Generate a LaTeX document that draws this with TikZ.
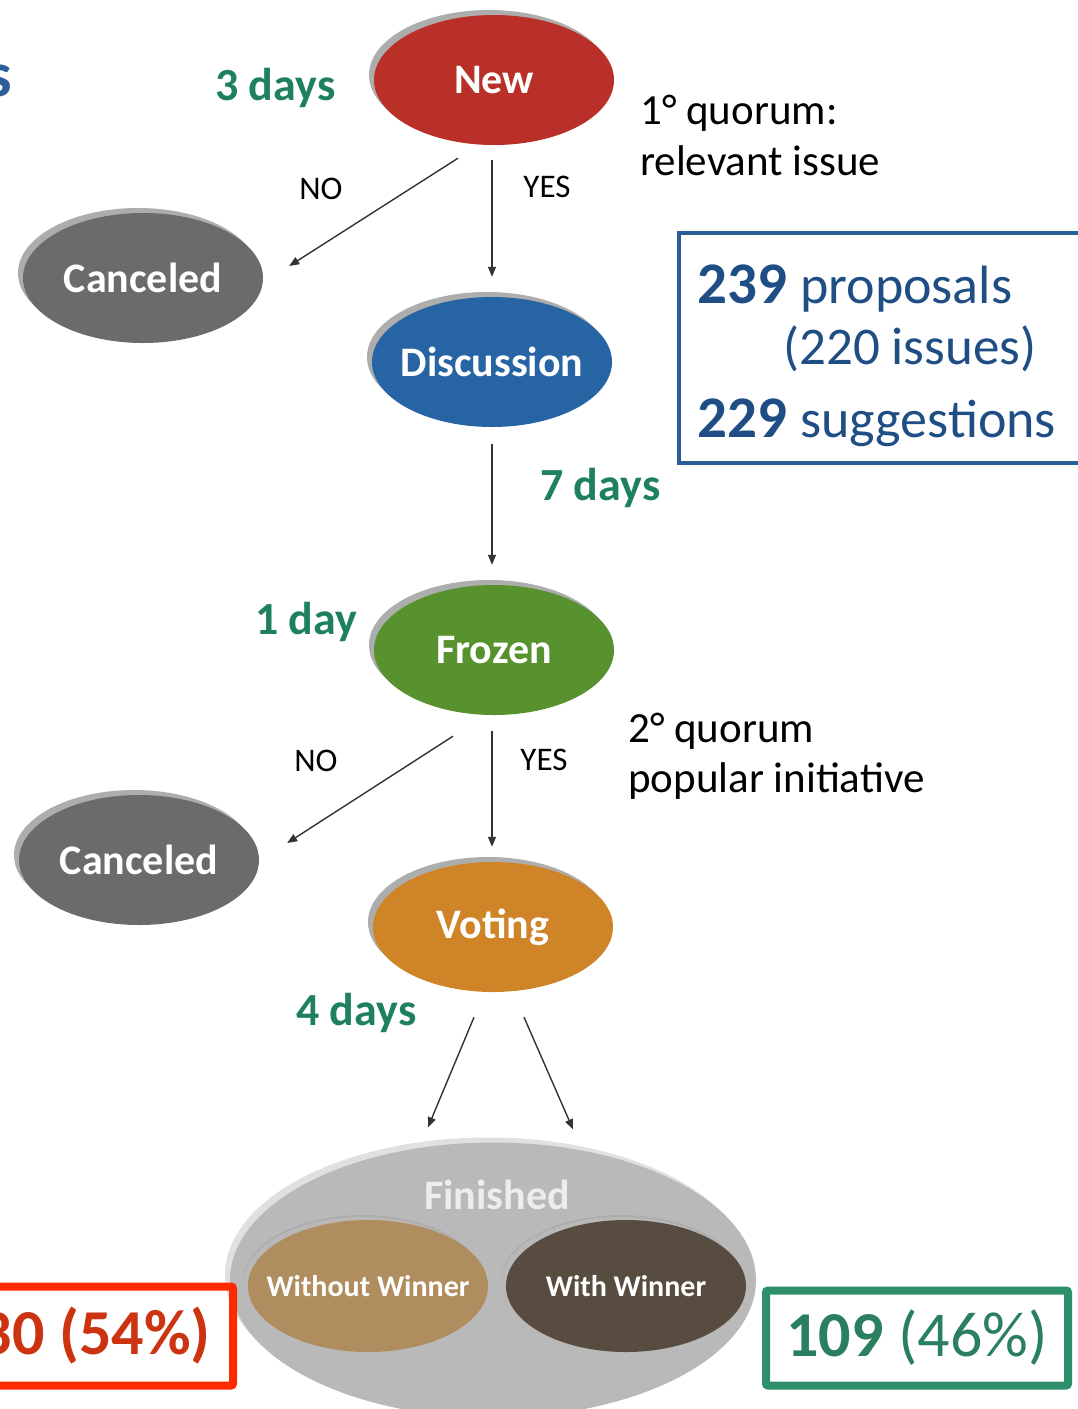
\documentclass[tikz,border=0pt]{standalone}
\usepackage{fontspec}
\setmainfont{Carlito}
\usetikzlibrary{arrows.meta,shapes.geometric,shadows}
\definecolor{newred}{HTML}{B83027}
\definecolor{cangray}{HTML}{6B6B6B}
\definecolor{discblue}{HTML}{2664A3}
\definecolor{frozgreen}{HTML}{57922E}
\definecolor{voteorange}{HTML}{CF8428}
\definecolor{fingray}{HTML}{B9B9B9}
\definecolor{nowintan}{HTML}{B08D5E}
\definecolor{winbrown}{HTML}{584C40}
\definecolor{daygreen}{HTML}{1F8060}
\definecolor{statblue}{HTML}{2B5E95}
\definecolor{stattext}{HTML}{1F4E85}
\definecolor{lostred}{HTML}{FF2A00}
\definecolor{losttext}{HTML}{CC3311}
\definecolor{wongreen}{HTML}{2E8F6B}
\definecolor{wontext}{HTML}{2A7F5F}
\newcommand{\fsz}[1]{\fontsize{#1}{#1}\selectfont}
\newcommand{\inell}[1]{\makebox[0pt]{#1}}

\begin{document}
\begin{tikzpicture}[x=1pt,y=-1pt,
  state/.style={ellipse,minimum width=240pt,minimum height=130pt,inner sep=0pt,
    text=white,font=\fsz{42}\bfseries,
    drop shadow={shadow xshift=-5pt,shadow yshift=5pt,fill=black!32,opacity=1}},
  outcome/.style={state,minimum height=132pt,font=\fsz{30}\bfseries,
    drop shadow={shadow xshift=-5pt,shadow yshift=3pt,fill=black!28,opacity=1}},
  flow/.style={draw=black!80,line width=1.4pt,-{Triangle[length=10pt,width=8pt]}},
  days/.style={text=daygreen,font=\fsz{46}\bfseries,anchor=base west,inner sep=0pt},
  answer/.style={font=\fsz{33},inner sep=0pt},
  note/.style={font=\fsz{43},anchor=base west,inner sep=0pt},
  stat/.style={text=stattext,font=\fsz{53},anchor=base west,inner sep=0pt},
  countbox/.style={line width=8pt,rounded corners=2pt,outer sep=0pt,font=\fsz{64}}]
\useasboundingbox (0,0) rectangle (1077,1409);
\node[anchor=base west,inner sep=0pt,text=statblue,font=\fsz{64}\bfseries] (title) at (-14,96) {s};

% states
\node[state,fill=newred] (new) at (494,80) {\inell{New}};
\node[state,fill=cangray] (can1) at (143,278) {\inell{Canceled}};
\node[state,fill=discblue] (disc) at (492,362) {\inell{Discussion}};
\node[state,fill=frozgreen] (froz) at (494,650) {\inell{Frozen}};
\node[state,fill=cangray] (can2) at (139,860) {\inell{Canceled}};
\node[state,fill=voteorange] (vote) at (493,927) {\inell{Voting}};

% finished with its two outcomes
\node[ellipse,fill=fingray,minimum width=526pt,minimum height=275pt,inner sep=0pt,
  drop shadow={shadow xshift=-5pt,shadow yshift=5pt,fill=black!12,opacity=1}] (fin) at (493,1280) {};
\node[text=white!93!black,font=\fsz{42}\bfseries,inner sep=0pt] (fintext) at (497,1195) {Finished};
\node[outcome,fill=nowintan] (nowin) at (368,1286) {\inell{Without Winner}};
\node[outcome,fill=winbrown] (win) at (626,1286) {\inell{With Winner}};

% durations
\node[days] (d3) at (215,100) {3 days};
\node[days] (d7) at (540,500) {7 days};
\node[days] (d1) at (255,634) {1 day};
\node[days] (d4) at (296,1025) {4 days};

% quorum notes
\node[note] (q1a) at (640,124) {1° quorum:};
\node[note] (q1b) at (640,175) {relevant issue};
\node[note] (q2a) at (628,742) {2° quorum};
\node[note] (q2b) at (628,792) {popular initiative};

% yes / no
\node[answer] (no1) at (321,189) {NO};
\node[answer] (yes1) at (547,187) {YES};
\node[answer] (no2) at (316,761) {NO};
\node[answer] (yes2) at (544,760) {YES};

\draw[flow] ([xshift=-36pt,yshift=-13pt]new.south) -- ([xshift=26pt,yshift=12pt]can1.east);
\draw[flow] ([xshift=-2pt,yshift=-15pt]new.south) -- ([yshift=20pt]disc.north);
\draw[flow] ([yshift=-17pt]disc.south) -- ([xshift=-2pt,yshift=20pt]froz.north);
\draw[flow] ([xshift=-41pt,yshift=-21pt]froz.south) -- ([xshift=28pt,yshift=17pt]can2.east);
\draw[flow] ([xshift=-2pt,yshift=-16pt]froz.south) -- ([xshift=-1pt,yshift=15pt]vote.north);
\draw[flow] ([xshift=-19pt,yshift=-25pt]vote.south) -- ([xshift=-65pt,yshift=15pt]fin.north);
\draw[flow] ([xshift=31pt,yshift=-25pt]vote.south) -- ([xshift=80pt,yshift=13pt]fin.north);

% counts
\node[draw=statblue,line width=4pt,outer sep=0pt,minimum width=420pt,minimum height=230pt,anchor=north west] (stats) at (679,233) {};
\node[stat] (p1) at (697,303) {\fsz{59}\textbf{239} \fsz{54}proposals};
\node[stat] (p2) at (783,364) {(220 issues)};
\node[stat] (p3) at (697,437) {\fsz{59}\textbf{229} \fsz{54}suggestions};

\node[countbox,draw=lostred,minimum width=308pt,minimum height=99pt,
  anchor=east,text=losttext,font=\fsz{64}\bfseries] (lost) at (233,1336) {130 (54\%)};
\node[countbox,draw=wongreen,minimum width=302pt,minimum height=95pt,
  text=wontext] (won) at (917,1338) {\textbf{109} (46\%)};
\end{tikzpicture}
\end{document}
